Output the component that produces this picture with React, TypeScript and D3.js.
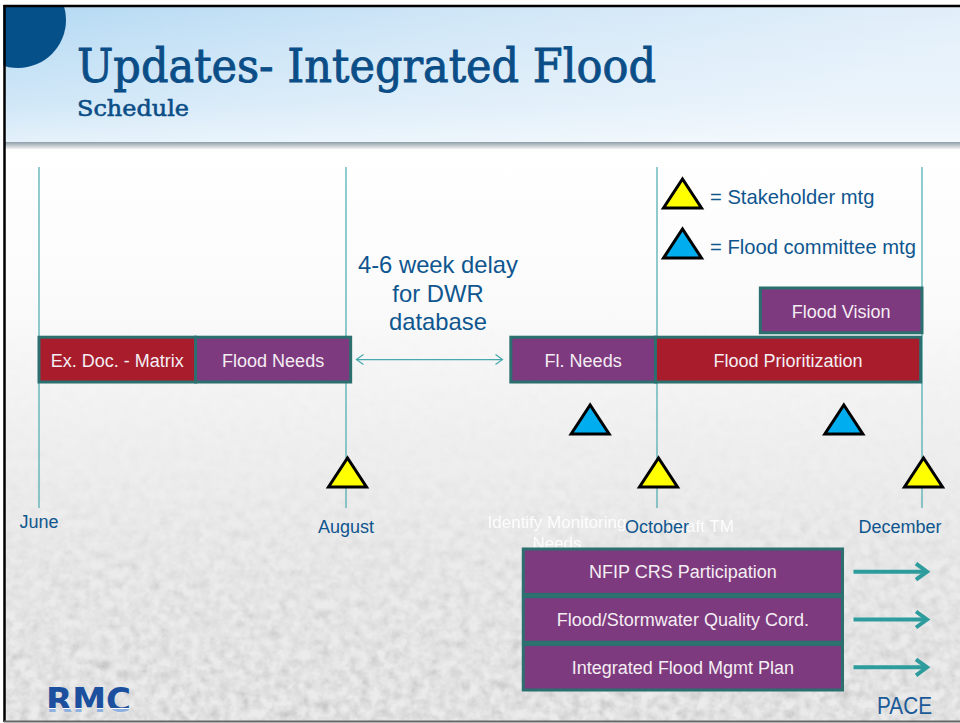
import { scaleLinear, scaleBand } from "d3";

// timeline in month steps from June (0) to December (6)
const monthNames = ["June", "July", "August", "September", "October", "November", "December"];
const monthTicks = [0, 2, 4, 6];

const taskNames = ["Ex. Doc. - Matrix", "Flood Needs", "Fl. Needs", "Flood Prioritization", "Flood Vision"];
const taskStart = [0, 1.02, 3.06, 3.99, 4.78];
const taskEnd = [1.02, 2.03, 3.99, 5.99, 6.0];
const taskLane = ["main", "main", "main", "main", "vision"];
const taskKind = ["red", "purple", "purple", "red", "purple"];

const ongoingNames = ["NFIP CRS Participation", "Flood/Stormwater Quality Cord.", "Integrated Flood Mgmt Plan"];
const ongoingStart = [3.14, 3.14, 3.14];
const ongoingEnd = [5.4, 5.4, 5.4];

const stakeholderMtgs = [2, 4, 6];
const committeeMtgs = [3.57, 5.41];

const delayFrom = 2.08;
const delayTo = 3.0;

const width = 960;
const height = 723;

const blue = "#0f568f";
const teal = "#47a8ae";
const barStroke = "#2c6f6f";
const fills: Record<string, string> = { red: "#a81c2b", purple: "#7e3a7e" };
const sans = "'Liberation Sans', Arial, sans-serif";

const tri = (cx: number, base: number) =>
  `M${cx - 19},${base} L${cx + 19},${base} L${cx},${base - 29} Z`;

export default function App() {
  const x = scaleLinear().domain([0, 2, 4, 6]).range([39, 346, 657, 922]);

  const topLanes = scaleBand().domain(["vision", "main"]).range([288, 382]).paddingInner(0.09);
  const bottomLanes = scaleBand().domain(ongoingNames).range([549, 690]).paddingInner(0.05);

  const gridTop = 167;
  const gridBottom = 508;
  const mainY = (topLanes("main") ?? 0) + topLanes.bandwidth() / 2;
  const delayX = (x(delayFrom) + x(delayTo)) / 2 + 8;

  return (
    <svg
      width={width}
      height={height}
      style={{ position: "absolute", left: 0, top: 0, display: "block" }}
    >
      <defs>
        <linearGradient id="sky" x1="0" y1="0" x2="1" y2="0.3">
          <stop offset="0" stopColor="#b3d9f3" />
          <stop offset="0.45" stopColor="#cfe6f7" />
          <stop offset="1" stopColor="#e4f0fa" />
        </linearGradient>
        <linearGradient id="skyfade" x1="0" y1="0" x2="0" y2="1">
          <stop offset="0" stopColor="#ffffff" stopOpacity="0" />
          <stop offset="0.7" stopColor="#ffffff" stopOpacity="0.25" />
          <stop offset="1" stopColor="#ffffff" stopOpacity="0.55" />
        </linearGradient>
        <linearGradient id="shadow" x1="0" y1="0" x2="0" y2="1">
          <stop offset="0" stopColor="#8e9ea8" />
          <stop offset="1" stopColor="#f2f2f2" />
        </linearGradient>
        <linearGradient id="field" x1="0" y1="0" x2="0" y2="1">
          <stop offset="0" stopColor="#ffffff" />
          <stop offset="0.25" stopColor="#fbfbfb" />
          <stop offset="0.5" stopColor="#f0f0f0" />
          <stop offset="0.72" stopColor="#e6e6e6" />
          <stop offset="1" stopColor="#dcdcdc" />
        </linearGradient>
        <linearGradient id="noiseMaskGrad" x1="0" y1="0" x2="0" y2="1">
          <stop offset="0" stopColor="#fff" stopOpacity="0" />
          <stop offset="0.4" stopColor="#fff" stopOpacity="0.06" />
          <stop offset="0.65" stopColor="#fff" stopOpacity="0.25" />
          <stop offset="1" stopColor="#fff" stopOpacity="0.45" />
        </linearGradient>
        <mask id="noiseMask">
          <rect x={0} y={300} width={width} height={423} fill="url(#noiseMaskGrad)" />
        </mask>
        <filter id="noise" x="0" y="0" width="100%" height="100%">
          <feTurbulence type="fractalNoise" baseFrequency="0.1" numOctaves="3" seed="4" />
          <feColorMatrix
            type="matrix"
            values="0.5 0.5 0.5 0 0.05  0.5 0.5 0.5 0 0.05  0.5 0.5 0.5 0 0.05  0 0 0 0 1"
          />
        </filter>
        <linearGradient id="rmc" x1="0" y1="0" x2="0" y2="1">
          <stop offset="0" stopColor="#1c4f9e" />
          <stop offset="0.68" stopColor="#1c4f9e" />
          <stop offset="0.68" stopColor="#ffffff" />
          <stop offset="0.73" stopColor="#ffffff" />
          <stop offset="0.73" stopColor="#8fb1e0" />
          <stop offset="1" stopColor="#8fb1e0" />
        </linearGradient>
      </defs>

      {/* slide background */}
      <rect x={0} y={0} width={width} height={height} fill="#ffffff" />
      <rect x={5} y={148} width={width - 5} height={height - 150} fill="url(#field)" />
      <rect
        x={5}
        y={300}
        width={width - 5}
        height={421}
        filter="url(#noise)"
        mask="url(#noiseMask)"
      />

      {/* header */}
      <rect x={5} y={7} width={width - 5} height={137} fill="url(#sky)" />
      <rect x={5} y={7} width={width - 5} height={137} fill="url(#skyfade)" />
      <rect x={5} y={142} width={width - 5} height={7} fill="url(#shadow)" />
      <circle cx={18} cy={20} r={48} fill="#06508a" />
      <rect x={0} y={0} width={width} height={5} fill="#ffffff" />
      <rect x={0} y={0} width={3.5} height={height} fill="#ffffff" />
      <line x1={3.5} y1={6} x2={width} y2={6} stroke="#000" strokeWidth={2.5} />
      <line x1={4.5} y1={5} x2={4.5} y2={722} stroke="#000" strokeWidth={2.5} />
      <line x1={4} y1={721.5} x2={width} y2={721.5} stroke="#666" strokeWidth={2} />

      <text
        x={77}
        y={82}
        fontFamily="'DejaVu Serif', serif"
        fontSize={47}
        fill="#0b4e87"
        stroke="#0b4e87"
        strokeWidth={0.9}
        textLength={579}
        lengthAdjust="spacingAndGlyphs"
      >
        Updates- Integrated Flood
      </text>
      <text
        x={77}
        y={116}
        fontFamily="'DejaVu Serif', serif"
        fontSize={23}
        fill="#0b4e87"
        stroke="#0b4e87"
        strokeWidth={0.6}
        textLength={112}
        lengthAdjust="spacingAndGlyphs"
      >
        Schedule
      </text>

      {/* month gridlines */}
      {monthTicks.map((m) => (
        <line
          key={`g${m}`}
          x1={x(m)}
          x2={x(m)}
          y1={gridTop}
          y2={gridBottom}
          stroke={teal}
          strokeWidth={1.2}
        />
      ))}

      {/* faint labels behind the October tick */}
      <g fontFamily={sans} fontSize={17} fill="#ffffff" opacity={0.9} textAnchor="middle">
        <text x={557} y={528}>Identify Monitoring</text>
        <text x={557} y={549}>Needs</text>
        <text x={701} y={532}>Draft TM</text>
      </g>

      {monthTicks.map((m, i) => (
        <text
          key={`m${m}`}
          x={Math.min(x(m), 900)}
          y={i === 0 ? 528 : 533}
          textAnchor="middle"
          fontFamily={sans}
          fontSize={18}
          fill={blue}
        >
          {monthNames[m]}
        </text>
      ))}

      {/* delay note */}
      <g fontFamily={sans} fontSize={23.8} fill={blue} textAnchor="middle">
        <text x={delayX} y={273}>4-6 week delay</text>
        <text x={delayX} y={302}>for DWR</text>
        <text x={delayX} y={330}>database</text>
      </g>
      <g stroke={teal} strokeWidth={1.2} fill="none">
        <line x1={x(delayFrom) - 2} x2={x(delayTo) + 1} y1={mainY} y2={mainY} />
        <path d={`M${x(delayFrom) + 5},${mainY - 5} L${x(delayFrom) - 2},${mainY} L${x(delayFrom) + 5},${mainY + 5}`} />
        <path d={`M${x(delayTo) - 6},${mainY - 5} L${x(delayTo) + 1},${mainY} L${x(delayTo) - 6},${mainY + 5}`} />
      </g>

      {/* task bars */}
      {taskNames.map((name, i) => {
        const x0 = x(taskStart[i]);
        const x1 = x(taskEnd[i]);
        const y0 = topLanes(taskLane[i]) ?? 0;
        return (
          <g key={name}>
            <rect
              x={x0}
              y={y0}
              width={x1 - x0}
              height={topLanes.bandwidth()}
              fill={fills[taskKind[i]]}
              stroke={barStroke}
              strokeWidth={3}
            />
            <text
              x={(x0 + x1) / 2}
              y={y0 + topLanes.bandwidth() / 2}
              dy="0.4em"
              textAnchor="middle"
              fontFamily={sans}
              fontSize={18}
              fill="#f4eef4"
            >
              {name}
            </text>
          </g>
        );
      })}

      {/* ongoing tasks */}
      {ongoingNames.map((name, i) => {
        const x0 = x(ongoingStart[i]);
        const x1 = x(ongoingEnd[i]);
        const y0 = bottomLanes(name) ?? 0;
        const yc = y0 + bottomLanes.bandwidth() / 2;
        return (
          <g key={name}>
            <rect
              x={x0}
              y={y0}
              width={x1 - x0}
              height={bottomLanes.bandwidth()}
              fill={fills.purple}
              stroke={barStroke}
              strokeWidth={3}
            />
            <text
              x={(x0 + x1) / 2}
              y={yc}
              dy="0.35em"
              textAnchor="middle"
              fontFamily={sans}
              fontSize={18}
              fill="#f4eef4"
            >
              {name}
            </text>
            <g stroke="#2e9c9c" strokeWidth={4} fill="none">
              <line x1={x1 + 11} x2={x(6) + 4} y1={yc} y2={yc} />
              <path d={`M${x(6) - 6},${yc - 8} L${x(6) + 5},${yc} L${x(6) - 6},${yc + 8}`} strokeLinejoin="miter" />
            </g>
          </g>
        );
      })}

      {/* meetings */}
      {committeeMtgs.map((m) => (
        <path key={`c${m}`} d={tri(x(m), 434)} fill="#00aeef" stroke="#000" strokeWidth={3} />
      ))}
      {stakeholderMtgs.map((m) => (
        <path key={`s${m}`} d={tri(x(m) + 1.5, 487)} fill="#ffff00" stroke="#000" strokeWidth={3} />
      ))}

      {/* legend */}
      <path d={tri(682.5, 208)} fill="#ffff00" stroke="#000" strokeWidth={3} />
      <path d={tri(682.5, 258)} fill="#00aeef" stroke="#000" strokeWidth={3} />
      <g fontFamily={sans} fontSize={20.2} fill={blue}>
        <text x={710} y={204}>= Stakeholder mtg</text>
        <text x={710} y={254}>= Flood committee mtg</text>
      </g>

      {/* footer */}
      <text
        x={46}
        y={712}
        fontFamily="'DejaVu Sans', sans-serif"
        fontWeight="bold"
        fontSize={33}
        fill="url(#rmc)"
        textLength={85}
        lengthAdjust="spacingAndGlyphs"
      >
        RMC
      </text>
      <text
        x={877}
        y={714}
        fontFamily="'Liberation Sans Narrow', 'Liberation Sans', sans-serif"
        fontSize={24}
        fill="#1a5a98"
        textLength={55}
        lengthAdjust="spacingAndGlyphs"
      >
        PACE
      </text>
    </svg>
  );
}
